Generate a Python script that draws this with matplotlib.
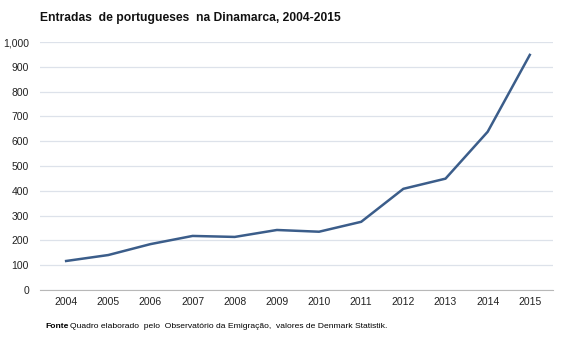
import matplotlib
matplotlib.use("Agg")
import matplotlib.pyplot as plt
from matplotlib.ticker import FuncFormatter

plt.rcParams["font.family"] = ["Liberation Sans", "DejaVu Sans"]

years = [2004, 2005, 2006, 2007, 2008, 2009, 2010, 2011, 2012, 2013, 2014, 2015]
entradas = [117, 141, 185, 218, 214, 242, 235, 275, 408, 449, 638, 948]
yticks = list(range(0, 1001, 100))

fig = plt.figure(figsize=(5.67, 3.4), dpi=100)
ax = fig.add_axes([40 / 567, 1 - 290 / 340, 513 / 567, 248 / 340])

ax.plot(years, entradas, color="#3b5d8a", lw=1.8, solid_joinstyle="round")

ax.set_ylim(0, 1000)
ax.set_xlim(2003.38, 2015.55)
ax.set_yticks(yticks)
ax.yaxis.set_major_formatter(FuncFormatter(lambda v, p: f"{int(v):,}"))
ax.set_xticks(years)
ax.grid(axis="y", color="#dde2ea", lw=0.9)
ax.set_axisbelow(True)
for s in ["top", "right", "left"]:
    ax.spines[s].set_visible(False)
ax.spines["bottom"].set_color("#b8b8b8")
ax.tick_params(length=0, labelsize=7.5, colors="#222222")
ax.tick_params(axis="y", pad=8)
ax.tick_params(axis="x", pad=5)

fig.text(40 / 567, 1 - 18 / 340, "Entradas  de portugueses  na Dinamarca, 2004-2015",
         fontsize=8.7, weight="bold", va="center", color="#111111")
fig.text(45 / 567, 1 - 326 / 340, "Fonte", fontsize=6.1, weight="bold", va="center")
fig.text(70 / 567, 1 - 326 / 340,
         "Quadro elaborado  pelo  Observatório da Emigração,  valores de Denmark Statistik.",
         fontsize=6.1, va="center")

fig.savefig("out.png", dpi=100)
